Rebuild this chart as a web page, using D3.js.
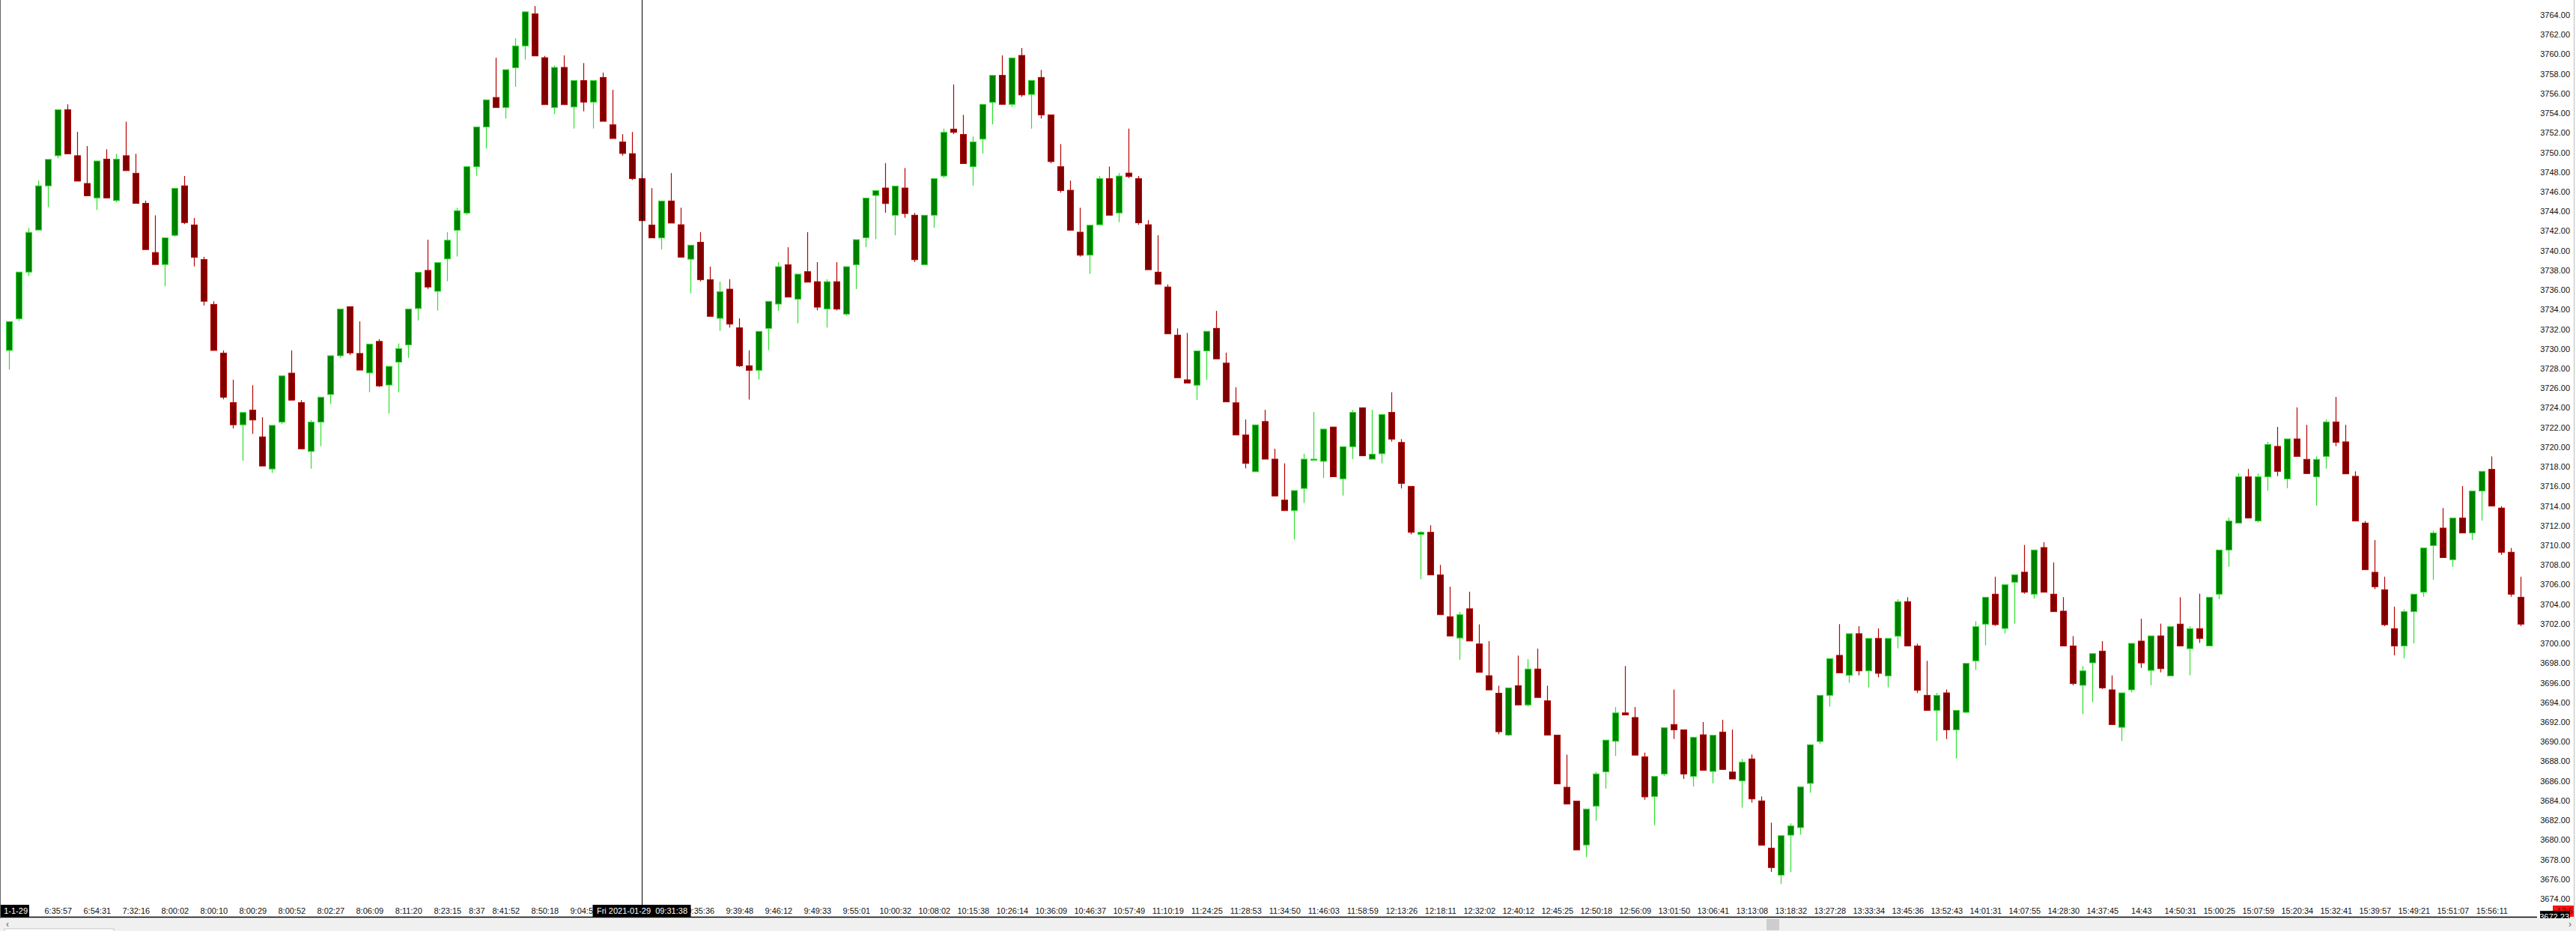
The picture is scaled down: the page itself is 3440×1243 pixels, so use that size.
<!DOCTYPE html>
<html>
<head>
<meta charset="utf-8">
<script src="https://cdn.jsdelivr.net/npm/d3@7/dist/d3.min.js"></script>
<style>
  html, body { margin: 0; padding: 0; background: #ffffff; overflow: hidden; }
  svg { display: block; }
  text { font-family: "Liberation Sans", Arial, sans-serif; font-size: 11px; }
</style>
</head>
<body>
<svg id="chart" width="3440" height="1243"></svg>
<script>
// ---------------- DATA ----------------
const opens = [
3729.84,3733.06,3737.82,3742.10,3746.60,3749.67,3754.36,3749.67,3746.84,3745.37,
3749.32,3745.10,3749.67,3747.88,3744.82,3739.81,3738.59,3741.56,3746.60,3742.62,
3739.10,3734.53,3729.57,3724.53,3722.27,3723.77,3721.04,3717.77,3722.54,3727.53,
3724.53,3719.55,3722.54,3725.35,3729.30,3734.29,3729.53,3727.55,3730.76,3726.32,
3728.65,3730.41,3734.11,3737.99,3735.86,3739.16,3742.08,3743.83,3748.56,3752.59,
3755.60,3754.57,3758.63,3760.85,3764.12,3759.65,3754.57,3758.66,3754.63,3757.32,
3755.13,3757.64,3752.82,3751.07,3749.88,3747.34,3742.61,3741.30,3745.06,3742.64,
3739.13,3740.86,3737.05,3733.11,3736.08,3732.14,3728.28,3727.82,3732.09,3734.56,
3738.57,3735.06,3737.86,3736.84,3734.07,3736.84,3733.54,3738.57,3741.32,3745.62,
3746.38,3743.61,3746.38,3743.61,3738.57,3743.61,3747.60,3752.38,3751.84,3748.56,
3751.36,3755.10,3757.85,3754.90,3759.88,3755.91,3757.64,3753.83,3748.56,3746.15,
3741.88,3739.54,3742.64,3747.34,3743.84,3747.90,3747.34,3742.64,3737.81,3736.30,
3731.40,3726.85,3726.30,3729.79,3732.09,3728.55,3724.51,3721.23,3717.49,3722.60,
3718.77,3714.60,3713.53,3715.79,3718.65,3718.55,3722.04,3716.77,3720.04,3724.00,
3718.77,3719.32,3723.53,3720.47,3716.00,3711.11,3711.32,3706.98,3702.72,3700.55,
3703.53,3699.95,3696.72,3694.93,3690.67,3695.70,3693.74,3697.40,3694.16,3690.67,
3685.36,3683.95,3679.48,3683.44,3686.93,3690.04,3692.93,3692.46,3688.46,3684.42,
3686.71,3691.75,3691.21,3686.46,3690.70,3686.97,3690.98,3686.91,3686.00,3688.24,
3683.97,3679.16,3676.41,3680.48,3681.25,3685.75,3690.02,3694.72,3698.79,3696.75,
3701.00,3697.21,3700.52,3696.70,3700.75,3704.26,3699.75,3694.72,3693.19,3694.97,
3691.21,3692.99,3698.23,3701.97,3705.02,3701.53,3706.24,3707.26,3705.02,3709.77,
3705.02,3703.29,3699.75,3695.74,3698.03,3699.22,3695.28,3691.46,3695.28,3700.24,
3697.26,3700.77,3696.70,3701.97,3699.47,3701.51,3699.75,3705.02,3709.52,3712.26,
3716.97,3712.47,3716.97,3720.07,3716.76,3720.83,3718.75,3716.97,3719.05,3722.56,
3720.53,3717.02,3712.26,3707.25,3705.47,3701.51,3699.75,3703.24,3705.22,3709.97,
3711.75,3708.53,3712.77,3711.25,3715.52,3717.73,3713.79,3709.29,3704.71
];
const highs = [
3732.78,3737.82,3742.32,3747.14,3749.29,3754.36,3754.90,3752.10,3750.65,3749.13,
3750.33,3749.86,3753.13,3749.86,3745.10,3743.60,3741.31,3746.35,3747.60,3743.33,
3739.38,3734.85,3729.84,3726.85,3723.52,3726.30,3723.03,3722.21,3727.25,3729.84,
3724.78,3722.76,3725.08,3729.30,3734.05,3734.29,3732.80,3730.49,3730.99,3728.22,
3730.55,3734.05,3737.79,3741.12,3738.78,3741.88,3744.36,3748.56,3752.59,3755.36,
3759.65,3758.43,3761.64,3764.32,3764.91,3759.83,3758.86,3759.89,3757.32,3759.10,
3757.32,3758.13,3756.38,3751.86,3752.09,3747.86,3746.37,3745.06,3747.90,3744.37,
3740.56,3741.88,3738.37,3736.84,3737.10,3733.11,3729.85,3731.78,3734.84,3738.83,
3740.35,3737.61,3741.88,3738.83,3737.10,3738.83,3738.37,3741.12,3745.36,3746.12,
3748.92,3746.58,3748.41,3743.84,3743.61,3747.34,3752.43,3756.93,3753.83,3751.62,
3754.90,3757.85,3759.88,3759.63,3760.64,3757.34,3758.40,3753.83,3750.85,3747.14,
3744.37,3742.59,3747.60,3748.56,3747.90,3752.43,3747.60,3743.10,3741.57,3736.56,
3732.09,3731.62,3729.79,3731.79,3733.87,3729.62,3726.09,3722.81,3722.26,3723.79,
3719.83,3718.34,3715.57,3719.32,3723.58,3721.83,3722.04,3720.04,3723.79,3724.00,
3723.79,3723.32,3725.58,3720.81,3716.00,3711.45,3712.04,3708.00,3705.78,3703.23,
3705.27,3701.95,3700.25,3695.70,3695.48,3698.76,3698.42,3699.48,3695.70,3690.67,
3688.67,3683.95,3683.14,3686.93,3690.16,3693.53,3697.70,3693.53,3688.89,3686.46,
3691.42,3695.31,3691.21,3690.45,3692.00,3690.65,3692.23,3691.24,3688.24,3688.69,
3684.42,3681.75,3680.43,3681.68,3685.39,3689.69,3694.72,3698.46,3701.97,3701.00,
3701.76,3700.52,3701.53,3700.52,3704.51,3704.71,3699.98,3698.23,3694.97,3695.31,
3693.19,3697.97,3702.27,3704.71,3706.80,3705.98,3707.00,3710.03,3709.52,3710.31,
3708.25,3704.71,3700.75,3697.70,3698.97,3700.24,3696.75,3694.97,3700.01,3702.52,
3700.77,3702.02,3701.71,3704.71,3701.76,3705.07,3704.71,3709.52,3712.82,3717.35,
3717.78,3717.30,3720.53,3722.05,3720.83,3724.04,3722.26,3719.05,3722.81,3725.10,
3722.26,3717.53,3712.47,3710.53,3706.80,3703.75,3703.49,3705.02,3709.72,3711.50,
3713.79,3712.77,3716.03,3715.52,3717.53,3719.05,3713.99,3709.72,3706.80
];
const lows = [
3727.88,3732.84,3737.41,3742.10,3744.42,3749.40,3749.86,3747.08,3745.59,3744.14,
3745.37,3744.93,3748.15,3744.82,3740.11,3738.59,3736.38,3741.42,3742.70,3738.40,
3734.42,3729.84,3724.86,3721.89,3718.59,3721.34,3718.07,3717.37,3722.35,3724.78,
3719.82,3717.80,3720.09,3724.39,3729.09,3729.38,3727.84,3725.59,3726.12,3723.40,
3725.59,3729.09,3732.89,3736.10,3733.91,3736.89,3739.40,3743.63,3747.63,3750.40,
3754.57,3753.46,3756.68,3759.45,3759.83,3754.87,3753.90,3754.87,3752.44,3754.19,
3752.44,3753.17,3751.42,3749.67,3747.19,3742.96,3741.30,3740.13,3742.81,3739.34,
3735.65,3736.87,3733.31,3731.83,3732.17,3728.15,3724.84,3726.88,3729.88,3733.87,
3735.27,3732.60,3736.79,3733.92,3732.17,3733.92,3733.36,3736.08,3740.35,3741.17,
3743.86,3741.57,3743.35,3738.83,3738.57,3742.34,3747.40,3751.87,3748.87,3746.63,
3749.89,3752.86,3754.90,3754.64,3755.66,3752.43,3753.45,3748.90,3745.90,3742.08,
3739.39,3737.63,3742.64,3743.61,3742.90,3747.40,3742.64,3738.06,3736.59,3731.53,
3727.06,3726.51,3724.81,3726.85,3728.98,3724.60,3721.23,3717.83,3717.49,3718.77,
3715.02,3713.53,3710.59,3714.30,3718.65,3716.85,3716.98,3715.06,3718.77,3719.11,
3718.77,3718.34,3720.55,3715.79,3711.11,3706.55,3706.98,3702.93,3700.76,3698.34,
3700.25,3697.06,3695.27,3690.76,3690.55,3693.74,3693.57,3694.50,3690.67,3685.70,
3683.65,3678.97,3678.25,3681.95,3685.23,3688.55,3692.72,3688.63,3684.08,3681.50,
3686.51,3690.27,3686.20,3685.44,3687.09,3685.75,3687.17,3686.20,3683.28,3683.79,
3679.46,3676.74,3675.52,3676.72,3680.53,3684.80,3689.76,3693.58,3697.01,3695.99,
3696.75,3695.53,3696.55,3695.53,3699.50,3699.75,3694.97,3693.19,3690.07,3690.27,
3688.29,3692.94,3697.31,3699.81,3701.79,3701.03,3702.02,3705.07,3704.56,3705.22,
3703.24,3699.75,3695.74,3692.81,3694.03,3695.36,3691.74,3690.07,3695.02,3697.52,
3695.74,3697.06,3696.70,3699.75,3696.75,3700.06,3699.75,3704.51,3707.81,3712.26,
3712.77,3712.31,3715.57,3717.04,3715.82,3719.05,3717.30,3714.04,3717.81,3720.09,
3717.27,3712.47,3707.51,3705.53,3701.76,3698.79,3698.48,3700.01,3704.76,3706.49,
3708.75,3707.81,3711.25,3710.53,3712.52,3713.99,3709.03,3704.76,3701.76
];
const closes = [
3732.78,3737.82,3741.86,3746.60,3749.29,3754.36,3749.86,3747.08,3745.59,3749.13,
3745.37,3749.32,3748.15,3744.82,3740.11,3738.59,3741.31,3746.35,3742.86,3739.32,
3734.85,3729.84,3725.08,3722.27,3723.52,3722.76,3718.07,3722.21,3727.25,3724.78,
3719.82,3722.54,3725.08,3729.30,3734.05,3729.59,3727.84,3730.49,3726.23,3728.22,
3730.03,3734.05,3737.79,3736.30,3738.78,3741.06,3744.07,3748.56,3752.59,3755.36,
3754.57,3758.43,3760.85,3764.32,3759.83,3754.87,3758.66,3754.87,3757.32,3755.13,
3757.32,3753.17,3751.42,3749.90,3747.34,3743.05,3741.30,3745.06,3742.81,3739.34,
3740.56,3737.05,3733.31,3735.83,3732.52,3728.28,3727.82,3731.78,3734.84,3738.37,
3735.27,3737.61,3736.79,3734.25,3736.84,3734.05,3738.37,3741.12,3745.36,3746.12,
3744.80,3746.58,3743.78,3739.08,3743.61,3747.34,3752.05,3752.05,3748.87,3751.08,
3754.90,3757.85,3754.90,3759.63,3755.86,3757.34,3753.83,3749.07,3746.12,3742.08,
3739.54,3742.59,3747.34,3743.61,3747.60,3747.55,3742.84,3738.06,3736.59,3731.53,
3727.06,3726.51,3729.79,3731.79,3728.98,3724.60,3721.23,3718.34,3722.26,3718.77,
3715.02,3713.53,3715.57,3718.77,3718.77,3721.83,3716.98,3720.04,3723.53,3719.11,
3719.28,3723.32,3720.81,3716.30,3711.32,3711.32,3706.98,3702.93,3700.76,3702.93,
3700.25,3697.06,3695.27,3691.01,3695.48,3693.74,3697.40,3694.50,3690.67,3685.70,
3683.65,3678.97,3683.14,3686.72,3690.16,3692.93,3692.72,3688.63,3684.38,3686.46,
3691.42,3691.21,3686.71,3690.45,3687.09,3690.65,3687.17,3686.20,3687.91,3684.17,
3679.46,3677.18,3680.43,3681.42,3685.39,3689.69,3694.72,3698.46,3697.01,3701.00,
3697.21,3700.52,3696.96,3700.52,3704.26,3699.75,3695.23,3693.19,3694.72,3691.21,
3693.19,3697.97,3701.71,3704.71,3701.92,3705.98,3707.00,3705.22,3709.52,3705.22,
3703.24,3699.75,3695.92,3697.21,3698.97,3695.48,3691.74,3694.97,3700.01,3698.02,
3700.77,3697.44,3701.71,3699.75,3701.51,3700.52,3704.71,3709.52,3712.47,3716.97,
3712.77,3716.97,3720.27,3717.53,3720.83,3719.05,3717.30,3718.75,3722.56,3720.48,
3717.27,3712.47,3707.51,3705.78,3701.91,3699.75,3703.24,3705.02,3709.72,3711.25,
3708.75,3712.77,3711.25,3715.52,3717.53,3713.99,3709.29,3705.02,3701.97
];

// x-axis tick labels (bar index -> time text)
const tickIndex = [5,9,13,17,21,25,29,33,37,41,45,48,51,55,59,
  71,75,79,83,87,91,95,99,103,107,111,115,119,123,127,131,135,139,143,147,151,155,159,163,167,
  171,175,179,183,187,191,195,199,203,207,211,215,219,223,227,231,235,239,243,247,251,255];
const tickLabels = ["6:35:57","6:54:31","7:32:16","8:00:02","8:00:10","8:00:29","8:00:52","8:02:27","8:06:09","8:11:20","8:23:15","8:37","8:41:52","8:50:18","9:04:59",
  "9:35:36","9:39:48","9:46:12","9:49:33","9:55:01","10:00:32","10:08:02","10:15:38","10:26:14","10:36:09","10:46:37","10:57:49","11:10:19","11:24:25","11:28:53","11:34:50","11:46:03","11:58:59","12:13:26","12:18:11","12:32:02","12:40:12","12:45:25","12:50:18","12:56:09",
  "13:01:50","13:06:41","13:13:08","13:18:32","13:27:28","13:33:34","13:45:36","13:52:43","14:01:31","14:07:55","14:28:30","14:37:45","14:43","14:50:31","15:00:25","15:07:59","15:20:34","15:32:41","15:39:57","15:49:21","15:51:07","15:56:11"];

const yTicks = [3674,3676,3678,3680,3682,3684,3686,3688,3690,3692,3694,3696,3698,3700,3702,3704,3706,3708,3710,3712,3714,3716,3718,3720,3722,3724,3726,3728,3730,3732,3734,3736,3738,3740,3742,3744,3746,3748,3750,3752,3754,3756,3758,3760,3762,3764];

const crosshairIndex = 65;
const crosshairText = "Fri 2021-01-29  09:31:38";
const leftDateText = "1-1-29";
const cursorPrice = 3672.23;
const timerText = "12:5";

// ---------------- DRAW ----------------
const W = 3440, H = 1243;
const svg = d3.select("#chart");
const n = opens.length;

const x = d3.scaleLinear().domain([0, n - 1]).range([12.3, 12.3 + 13 * (n - 1)]);
const y = d3.scaleLinear().domain([3674, 3764]).range([1200, 20]);

const bars = opens.map((o, i) => ({ i, o, h: highs[i], l: lows[i], c: closes[i] }));

const col = {
  upFill: "#008000", upLine: "#2ee02e",
  dnFill: "#800000", dnLine: "#b80000"
};

const g = svg.append("g");

// wicks
g.selectAll("line.wick").data(bars).join("line")
  .attr("class", "wick")
  .attr("x1", d => Math.round(x(d.i)) + 0.5)
  .attr("x2", d => Math.round(x(d.i)) + 0.5)
  .attr("y1", d => y(d.h))
  .attr("y2", d => y(d.l))
  .attr("stroke", d => d.c >= d.o ? col.upLine : col.dnLine)
  .attr("stroke-width", 1.2);

// bodies
g.selectAll("rect.body").data(bars).join("rect")
  .attr("class", "body")
  .attr("x", d => Math.round(x(d.i)) - 3.5)
  .attr("width", 8)
  .attr("y", d => y(Math.max(d.o, d.c)))
  .attr("height", d => Math.max(1.5, Math.abs(y(d.o) - y(d.c))))
  .attr("fill", d => d.c >= d.o ? col.upFill : col.dnFill)
  .attr("stroke", d => d.c >= d.o ? col.upLine : col.dnLine)
  .attr("stroke-width", 1);

// y axis labels
const yAxis = d3.axisRight(y).tickValues(yTicks).tickFormat(d3.format(".2f")).tickSize(0);
const yg = svg.append("g").attr("transform", "translate(3432,0)").call(yAxis);
yg.select(".domain").remove();
yg.selectAll("text")
  .attr("x", 0).attr("text-anchor", "end")
  .attr("fill", "#111")
  .style("font-family", '"Liberation Sans", Arial, sans-serif')
  .style("font-size", "11px");

// x axis labels
const xAxis = d3.axisBottom(x).tickValues(tickIndex)
  .tickFormat(d => tickLabels[tickIndex.indexOf(d)]).tickSize(0);
const xg = svg.append("g").attr("transform", "translate(0,1224)").call(xAxis);
xg.select(".domain").remove();
xg.selectAll("text")
  .attr("y", -8).attr("dy", "0.35em")
  .attr("fill", "#111")
  .style("font-family", '"Liberation Sans", Arial, sans-serif')
  .style("font-size", "11px");

// x axis line
svg.append("line").attr("x1", 0).attr("x2", 3388).attr("y1", 1224.5).attr("y2", 1224.5)
  .attr("stroke", "#000").attr("stroke-width", 1.3);

// left window border
svg.append("line").attr("x1", 0.5).attr("x2", 0.5).attr("y1", 0).attr("y2", 1226)
  .attr("stroke", "#666").attr("stroke-width", 1);

// crosshair
const cx = Math.round(x(crosshairIndex)) + 0.5;
svg.append("line").attr("x1", cx).attr("x2", cx).attr("y1", 0).attr("y2", 1208)
  .attr("stroke", "#000").attr("stroke-width", 1);
svg.append("rect").attr("x", cx - 66).attr("y", 1208).attr("width", 131).attr("height", 16).attr("fill", "#000");
svg.append("text").attr("x", cx).attr("y", 1216).attr("dy", "0.35em")
  .attr("text-anchor", "middle").attr("fill", "#fff")
  .style("white-space", "pre").text(crosshairText);

// left clipped date label
svg.append("rect").attr("x", 1).attr("y", 1208).attr("width", 38).attr("height", 16).attr("fill", "#000");
svg.append("text").attr("x", 37).attr("y", 1216).attr("dy", "0.35em")
  .attr("text-anchor", "end").attr("fill", "#fff").text(leftDateText);

// right price / timer boxes
svg.append("rect").attr("x", 3409).attr("y", 1209).attr("width", 28).attr("height", 15).attr("fill", "#ff1010");
svg.append("text").attr("x", 3436).attr("y", 1216).attr("dy", "0.35em")
  .attr("text-anchor", "end").attr("fill", "#700").text(timerText);
svg.append("rect").attr("x", 3392).attr("y", y(cursorPrice) - 7).attr("width", 40).attr("height", 15).attr("fill", "#000");
svg.append("text").attr("x", 3431).attr("y", y(cursorPrice) + 1).attr("dy", "0.35em")
  .attr("text-anchor", "end").attr("fill", "#fff").text(d3.format(".2f")(cursorPrice));

// scrollbar
svg.append("rect").attr("x", 0).attr("y", 1226).attr("width", W).attr("height", 17).attr("fill", "#f0f0f0");
svg.append("rect").attr("x", 6).attr("y", 1240).attr("width", 146).attr("height", 4).attr("fill", "#fff").attr("stroke", "#c8c8c8");
svg.append("rect").attr("x", 2359).attr("y", 1227).attr("width", 17).attr("height", 15).attr("fill", "#cdcdcd");
svg.append("text").attr("x", 8).attr("y", 1234).attr("dy", "0.35em").attr("fill", "#606060").style("font-size", "12px").text("‹");
svg.append("text").attr("x", 3430).attr("y", 1234).attr("dy", "0.35em").attr("fill", "#606060").style("font-size", "12px").text("›");

// right window border
svg.append("line").attr("x1", 3437.5).attr("x2", 3437.5).attr("y1", 0).attr("y2", 1226)
  .attr("stroke", "#bdbdbd").attr("stroke-width", 1);
</script>
</body>
</html>
